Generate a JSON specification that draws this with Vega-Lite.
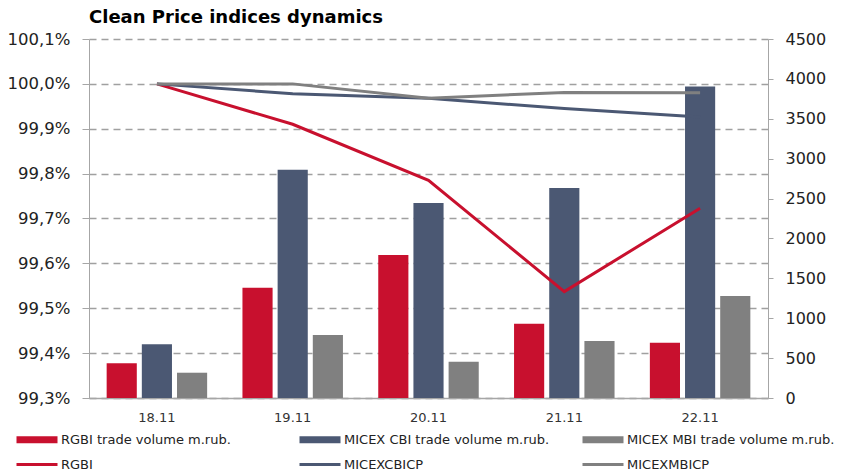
{
  "$schema": "https://vega.github.io/schema/vega-lite/v6.json",
  "autosize": {"type": "none"},
  "width": 679,
  "height": 359,
  "padding": {"left": 89, "top": 39, "right": 75, "bottom": 72},
  "background": "white",
  "title": {
    "text": "Clean Price indices dynamics",
    "anchor": "start",
    "frame": "group",
    "font": "DejaVu Sans",
    "fontSize": 18,
    "fontWeight": "bold",
    "color": "#000000",
    "offset": 4
  },
  "config": {
    "view": {"stroke": null},
    "font": "DejaVu Sans"
  },
  "datasets": {
    "bars": [
      {"date": "18.11", "series": "RGBI trade volume m.rub.", "volume": 435},
      {"date": "18.11", "series": "MICEX CBI trade volume m.rub.", "volume": 673},
      {"date": "18.11", "series": "MICEX MBI trade volume m.rub.", "volume": 317},
      {"date": "19.11", "series": "RGBI trade volume m.rub.", "volume": 1382},
      {"date": "19.11", "series": "MICEX CBI trade volume m.rub.", "volume": 2860},
      {"date": "19.11", "series": "MICEX MBI trade volume m.rub.", "volume": 789},
      {"date": "20.11", "series": "RGBI trade volume m.rub.", "volume": 1792},
      {"date": "20.11", "series": "MICEX CBI trade volume m.rub.", "volume": 2445},
      {"date": "20.11", "series": "MICEX MBI trade volume m.rub.", "volume": 455},
      {"date": "21.11", "series": "RGBI trade volume m.rub.", "volume": 931},
      {"date": "21.11", "series": "MICEX CBI trade volume m.rub.", "volume": 2632},
      {"date": "21.11", "series": "MICEX MBI trade volume m.rub.", "volume": 714},
      {"date": "22.11", "series": "RGBI trade volume m.rub.", "volume": 693},
      {"date": "22.11", "series": "MICEX CBI trade volume m.rub.", "volume": 3906},
      {"date": "22.11", "series": "MICEX MBI trade volume m.rub.", "volume": 1278}
    ],
    "lines": [
      {"date": "18.11", "series": "RGBI", "pct": 100.0},
      {"date": "19.11", "series": "RGBI", "pct": 99.910},
      {"date": "20.11", "series": "RGBI", "pct": 99.785},
      {"date": "21.11", "series": "RGBI", "pct": 99.537},
      {"date": "22.11", "series": "RGBI", "pct": 99.723},
      {"date": "18.11", "series": "MICEXCBICP", "pct": 100.0},
      {"date": "19.11", "series": "MICEXCBICP", "pct": 99.978},
      {"date": "20.11", "series": "MICEXCBICP", "pct": 99.968},
      {"date": "21.11", "series": "MICEXCBICP", "pct": 99.945},
      {"date": "22.11", "series": "MICEXCBICP", "pct": 99.926},
      {"date": "18.11", "series": "MICEXMBICP", "pct": 100.0},
      {"date": "19.11", "series": "MICEXMBICP", "pct": 100.0},
      {"date": "20.11", "series": "MICEXMBICP", "pct": 99.968},
      {"date": "21.11", "series": "MICEXMBICP", "pct": 99.981},
      {"date": "22.11", "series": "MICEXMBICP", "pct": 99.980}
    ]
  },
  "encoding": {
    "x": {
      "field": "date",
      "type": "nominal",
      "sort": null,
      "scale": {"paddingInner": 0.26, "paddingOuter": 0.13},
      "axis": {
        "title": null,
        "labelAngle": 0,
        "ticks": false,
        "labelPadding": 13,
        "labelFont": "DejaVu Sans",
        "labelFontSize": 13,
        "labelColor": "#333333",
        "domainColor": "#a6a6a6",
        "domainWidth": 1.5
      }
    }
  },
  "layer": [
    {
      "data": {"name": "bars"},
      "mark": {"type": "bar"},
      "encoding": {
        "xOffset": {
          "field": "series",
          "type": "nominal",
          "sort": ["RGBI trade volume m.rub.", "MICEX CBI trade volume m.rub.", "MICEX MBI trade volume m.rub."],
          "scale": {"paddingInner": 0.143, "paddingOuter": 0}
        },
        "y": {
          "field": "volume",
          "type": "quantitative",
          "scale": {"domain": [0, 4500], "nice": false},
          "axis": {
            "orient": "right",
            "title": null,
            "values": [0, 500, 1000, 1500, 2000, 2500, 3000, 3500, 4000, 4500],
            "format": "d",
            "grid": false,
            "tickSize": 5,
            "tickColor": "#a6a6a6",
            "domainColor": "#a6a6a6",
            "labelPadding": 12,
            "labelFont": "DejaVu Sans",
            "labelFontSize": 16,
            "labelColor": "#222222"
          }
        },
        "color": {
          "field": "series",
          "type": "nominal",
          "scale": {
            "domain": ["RGBI trade volume m.rub.", "MICEX CBI trade volume m.rub.", "MICEX MBI trade volume m.rub.", "RGBI", "MICEXCBICP", "MICEXMBICP"],
            "range": ["#c8102e", "#4b5873", "#808080", "#c8102e", "#4b5873", "#808080"]
          },
          "legend": {
            "title": null,
            "orient": "none",
            "legendX": -74,
            "legendY": 394,
            "direction": "horizontal",
            "columns": 3,
            "gridAlign": "all",
            "columnPadding": 29,
            "rowPadding": 11,
            "padding": 0,
            "symbolSize": 100,
            "symbolStrokeWidth": 0,
            "symbolOpacity": 1,
            "labelOffset": 33,
            "labelFont": "DejaVu Sans",
            "labelFontSize": 13,
            "labelColor": "#222222",
            "labelLimit": 400,
            "encode": {
              "symbols": {
                "update": {
                  "shape": {"signal": "indexof(['RGBI','MICEXCBICP','MICEXMBICP'], datum.value) >= 0 ? 'M-1,-0.3H7.2V0.3H-1Z' : 'M-1,-0.7H7.2V0.7H-1Z'"}
                }
              }
            }
          }
        }
      }
    },
    {
      "data": {"name": "lines"},
      "mark": {"type": "line", "strokeWidth": 3},
      "encoding": {
        "y": {
          "field": "pct",
          "type": "quantitative",
          "scale": {"domain": [99.3, 100.1], "nice": false, "zero": false},
          "axis": {
            "orient": "left",
            "title": null,
            "values": [99.3, 99.4, 99.5, 99.6, 99.7, 99.8, 99.9, 100.0, 100.1],
            "labelExpr": "replace(format(datum.value, '.1f'), '.', ',') + '%'",
            "grid": true,
            "gridColor": "#a0a0a0",
            "gridDash": [7, 5],
            "gridWidth": 1.5,
            "tickSize": 7,
            "tickColor": "#a6a6a6",
            "domainColor": "#a6a6a6",
            "labelPadding": 12,
            "labelFont": "DejaVu Sans",
            "labelFontSize": 16.5,
            "labelColor": "#222222"
          }
        },
        "color": {"field": "series", "type": "nominal"},
        "detail": {"field": "series"}
      }
    }
  ],
  "resolve": {"scale": {"y": "independent"}}
}
